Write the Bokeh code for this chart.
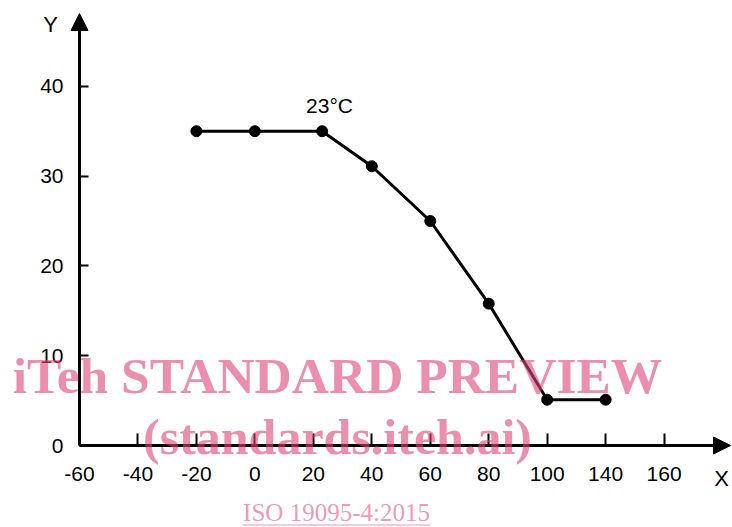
from bokeh.plotting import figure
from bokeh.models import Arrow, NormalHead, Label, FixedTicker, LinearAxis
from bokeh.embed import file_html
from bokeh.resources import INLINE

# ---- data ----
x_pos = [-20, 0, 23, 40, 60, 80, 100, 120]      # 120 is the axis slot labelled "140"
y_val = [35, 35, 35, 31.1, 25, 15.8, 5.1, 5.1]
x_ticks = [-60, -40, -20, 0, 20, 40, 60, 80, 100, 120, 140]
x_tick_labels = ["-60", "-40", "-20", "0", "20", "40", "60", "80", "100", "140", "160"]
y_ticks = [0, 10, 20, 30, 40]
y_tick_labels = ["0", "10", "20", "30", "40"]
note_text = "23°C"

# ---- layout: the frame fills the canvas; axes sit at fixed data locations ----
W, H = 732, 527
OX, OY = 79, 445          # canvas pixel of the origin (-60, 0)
sx, sy = 2.923, 8.98      # pixels per data unit
X0 = -60 - OX / sx
X1 = -60 + (W - OX) / sx
Y0 = -(H - OY) / sy
Y1 = OY / sy
X_TIP = -60 + (730 - OX) / sx
Y_TIP = (OY - 13) / sy

def dx(px):
    return -60 + (px - OX) / sx

def dy(py):
    return (OY - py) / sy

p = figure(width=W, height=H, x_range=(X0, X1), y_range=(Y0, Y1),
           output_backend="svg", toolbar_location=None,
           x_axis_location=None, y_axis_location=None,
           min_border_left=0, min_border_right=0, min_border_top=0, min_border_bottom=0)
p.outline_line_color = None
p.grid.visible = False
p.background_fill_color = "white"
p.border_fill_color = "white"

font = "Liberation Sans"
xaxis = LinearAxis(fixed_location=0, ticker=FixedTicker(ticks=x_ticks))
yaxis = LinearAxis(fixed_location=-60, ticker=FixedTicker(ticks=y_ticks))
for ax in (xaxis, yaxis):
    ax.axis_line_color = None
    ax.major_tick_out = 0
    ax.major_tick_line_color = "black"
    ax.major_tick_line_width = 2
    ax.minor_tick_line_color = None
    ax.major_label_text_font = font
    ax.major_label_text_font_size = "21px"
    ax.major_label_text_color = "black"
xaxis.major_label_overrides = dict(zip(x_ticks, x_tick_labels))
xaxis.major_tick_in = 12
xaxis.major_label_standoff = 21
yaxis.major_label_overrides = dict(zip(y_ticks, y_tick_labels))
yaxis.major_tick_in = 9
yaxis.major_label_standoff = 16
p.add_layout(xaxis, "below")
p.add_layout(yaxis, "left")

# axis arrows
p.add_layout(Arrow(x_start=-60, y_start=0, x_end=X_TIP, y_end=0, line_width=3, line_color="black",
                   end=NormalHead(size=17, fill_color="black", line_color="black")))
p.add_layout(Arrow(x_start=-60, y_start=0, x_end=-60, y_end=Y_TIP, line_width=3, line_color="black",
                   end=NormalHead(size=17, fill_color="black", line_color="black")))

# data
p.line(x_pos, y_val, line_width=3, line_color="black")
p.scatter(x_pos, y_val, size=11, fill_color="black", line_color="black")

# axis names and note
p.add_layout(Label(x=dx(50), y=dy(24), text="Y", text_font=font, text_font_size="22px",
                   text_align="center", text_baseline="middle", text_color="black"))
p.add_layout(Label(x=dx(721), y=dy(478), text="X", text_font=font, text_font_size="22px",
                   text_align="center", text_baseline="middle", text_color="black"))
p.add_layout(Label(x=dx(329), y=dy(105), text=note_text, text_font=font, text_font_size="21px",
                   text_align="center", text_baseline="middle", text_color="black"))

# watermark
wm = "#e0447a"
p.add_layout(Label(x=dx(337), y=dy(375), text="iTeh STANDARD PREVIEW", text_font="Liberation Serif",
                   text_font_style="bold", text_font_size="51.5px", text_align="center",
                   text_baseline="middle", text_color=wm, text_alpha=0.6))
p.add_layout(Label(x=dx(337), y=dy(436), text="(standards.iteh.ai)", text_font="Liberation Serif",
                   text_font_style="bold", text_font_size="50px", text_align="center",
                   text_baseline="middle", text_color=wm, text_alpha=0.6))
p.add_layout(Label(x=dx(336), y=dy(512), text="ISO 19095-4:2015", text_font="Liberation Serif",
                   text_font_size="25px", text_align="center",
                   text_baseline="middle", text_color=wm, text_alpha=0.55))
p.segment(x0=[dx(242)], y0=[dy(524.5)], x1=[dx(430)], y1=[dy(524.5)], line_color=wm, line_alpha=0.55,
          line_width=1.2)

open("out.html", "w").write(file_html(p, INLINE))
